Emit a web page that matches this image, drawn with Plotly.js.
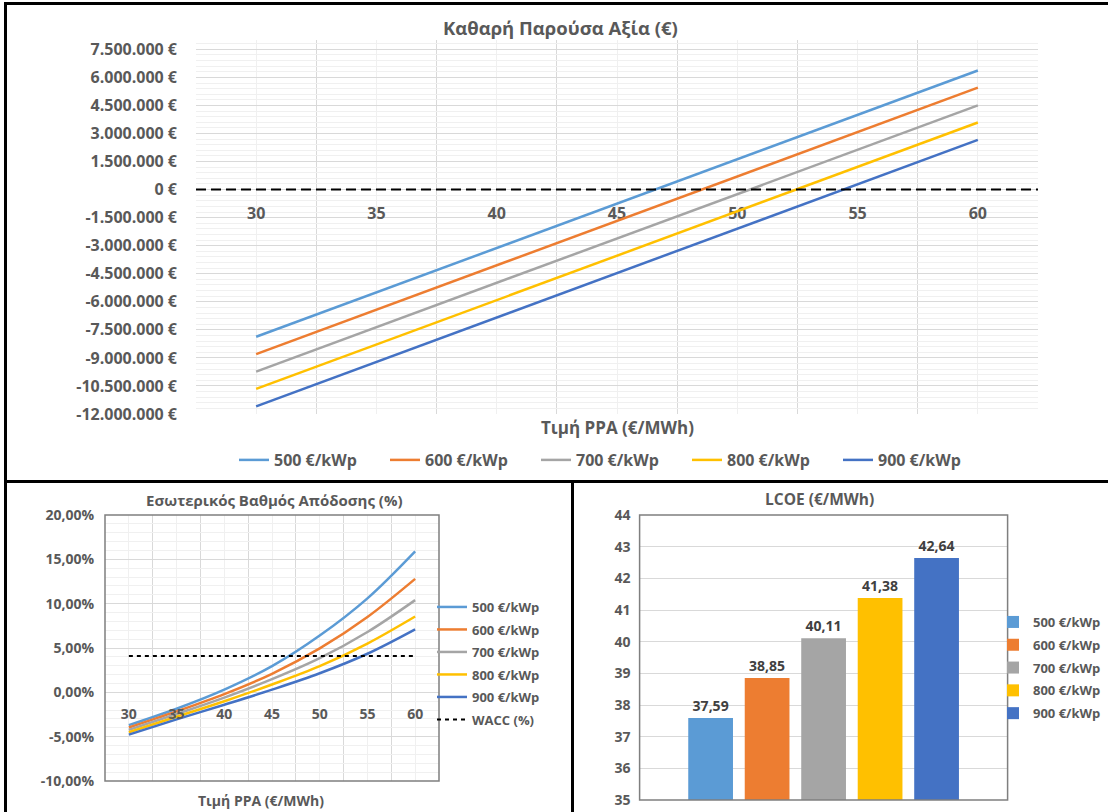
<!DOCTYPE html>
<html><head><meta charset="utf-8">
<script src="https://cdn.plot.ly/plotly-3.0.1.min.js"></script>
<style>html,body{margin:0;padding:0;background:#fff}#chart{width:1108px;height:812px}</style>
</head><body><div id="chart"></div>
<script>
// ---------- data ----------
const priceCategories = [30, 35, 40, 45, 50, 55, 60];
const seriesNames = ['500 €/kWp', '600 €/kWp', '700 €/kWp', '800 €/kWp', '900 €/kWp'];
const seriesColors = ['#5B9BD5', '#ED7D31', '#A5A5A5', '#FFC000', '#4472C4'];

// Καθαρή Παρούσα Αξία (€)
const npv500 = [-7870000, -5500000, -3120000, -750000, 1620000, 4000000, 6370000];
const npv600 = [-8800000, -6430000, -4050000, -1680000, 700000, 3070000, 5450000];
const npv700 = [-9730000, -7360000, -4990000, -2610000, -240000, 2130000, 4500000];
const npv800 = [-10660000, -8290000, -5910000, -3540000, -1160000, 1220000, 3590000];
const npv900 = [-11590000, -9220000, -6840000, -4470000, -2090000, 280000, 2660000];

// Εσωτερικός Βαθμός Απόδοσης (%)
const irr500 = [-3.70, -1.85, 0.30, 2.95, 6.40, 10.60, 15.90];
const irr600 = [-3.97, -2.15, -0.20, 2.09, 4.95, 8.50, 12.80];
const irr700 = [-4.24, -2.45, -0.60, 1.48, 3.85, 6.80, 10.40];
const irr800 = [-4.50, -2.75, -1.00, 0.88, 2.95, 5.50, 8.55];
const irr900 = [-4.77, -3.05, -1.40, 0.30, 2.15, 4.35, 7.10];
const waccPct = [4.1, 4.1, 4.1, 4.1, 4.1, 4.1, 4.1];
const waccName = 'WACC (%)';

// LCOE (€/MWh)
const lcoeCategory = ['LCOE'];
const lcoeValues = [37.59, 38.85, 40.11, 41.38, 42.64];

// tick labels
const npvTickVals = [-12000000, -10500000, -9000000, -7500000, -6000000, -4500000, -3000000, -1500000, 0, 1500000, 3000000, 4500000, 6000000, 7500000];
const npvTickText = ['-12.000.000 €', '-10.500.000 €', '-9.000.000 €', '-7.500.000 €', '-6.000.000 €', '-4.500.000 €', '-3.000.000 €', '-1.500.000 €', '0 €', '1.500.000 €', '3.000.000 €', '4.500.000 €', '6.000.000 €', '7.500.000 €'];
const irrTickVals = [-10, -5, 0, 5, 10, 15, 20];
const irrTickText = ['-10,00%', '-5,00%', '0,00%', '5,00%', '10,00%', '15,00%', '20,00%'];
const lcoeTickVals = [35, 36, 37, 38, 39, 40, 41, 42, 43, 44];

const titleNPV = 'Καθαρή Παρούσα Αξία (€)';
const titleIRR = 'Εσωτερικός Βαθμός Απόδοσης (%)';
const titleLCOE = 'LCOE (€/MWh)';
const xTitle = 'Τιμή PPA (€/MWh)';

// ---------- layout helpers ----------
const W = 1108, H = 812;
const px = x => x / W;
const py = y => 1 - y / H;
const FONT = 'Open Sans, Noto Sans, sans-serif';
const GREY = '#595959';
const MAJ = '#d9d9d9', MIN = '#f0f0f0';

const npvSeries = [npv500, npv600, npv700, npv800, npv900];
const irrSeries = [irr500, irr600, irr700, irr800, irr900];

const npvRange = [-12000000, 8000000];
const irrRange = [-10, 20];
const half = (priceCategories[1] - priceCategories[0]) / 2;
const xRange = [priceCategories[0] - half, priceCategories[priceCategories.length - 1] + half];
const boundaries = priceCategories.map(c => c - half).concat([xRange[1]]);

const npvY = [py(414), py(40)];
const irrY = [py(781), py(515)];
const lcoeY = [py(800), py(515)];
const zeroPos = (dom, rng) => dom[0] + (0 - rng[0]) / (rng[1] - rng[0]) * (dom[1] - dom[0]);

const traces = [];
npvSeries.forEach((vals, i) => traces.push({
  type: 'scatter', mode: 'lines', x: priceCategories, y: vals, name: seriesNames[i],
  line: { color: seriesColors[i], width: 2.5 }, xaxis: 'x', yaxis: 'y', legend: 'legend'
}));
irrSeries.forEach((vals, i) => traces.push({
  type: 'scatter', mode: 'lines', x: priceCategories, y: vals, name: seriesNames[i],
  line: { color: seriesColors[i], width: 2.5, shape: 'spline', smoothing: 1 },
  xaxis: 'x2', yaxis: 'y2', legend: 'legend2', legendgroup: 'irr' + i
}));
traces.push({
  type: 'scatter', mode: 'lines', x: priceCategories, y: waccPct, name: waccName,
  line: { color: '#000000', width: 2, dash: '4px,4px' },
  xaxis: 'x2', yaxis: 'y2', legend: 'legend2', legendgroup: 'wacc'
});
lcoeValues.forEach((v, i) => traces.push({
  type: 'bar', x: lcoeCategory, y: [v], name: seriesNames[i],
  marker: { color: seriesColors[i] },
  text: [v.toFixed(2).replace('.', ',')], textposition: 'outside', cliponaxis: false,
  textfont: { family: FONT, size: 14, color: '#404040', weight: 'bold' },
  xaxis: 'x3', yaxis: 'y3', legend: 'legend3', legendgroup: 'b' + i
}));

const tickFont = s => ({ family: FONT, size: s, color: GREY, weight: 'bold' });

const layout = {
  width: W, height: H, margin: { l: 0, r: 0, t: 0, b: 0 },
  paper_bgcolor: '#ffffff', plot_bgcolor: '#ffffff',
  font: { family: FONT, color: GREY, weight: 'bold' },
  separators: ',.',
  showlegend: true,
  barmode: 'group', bargap: 0.2325, bargroupgap: 0.208,
  xaxis: {
    domain: [px(196), px(1038)], range: xRange, anchor: 'free', position: zeroPos(npvY, npvRange),
    tickmode: 'array', tickvals: priceCategories, ticks: '', showline: false, zeroline: false,
    showgrid: true, gridcolor: MIN, gridwidth: 1,
    minor: { tickmode: 'array', tickvals: boundaries, showgrid: true, gridcolor: MAJ, gridwidth: 1, ticks: '' },
    tickfont: tickFont(16), ticklabelstandoff: 12, layer: 'below traces', fixedrange: true
  },
  yaxis: {
    domain: npvY, range: npvRange, anchor: 'x',
    tickmode: 'array', tickvals: npvTickVals, ticktext: npvTickText, ticks: '',
    showline: false, zeroline: false, showgrid: true, gridcolor: MAJ, gridwidth: 1,
    minor: { dtick: 300000, tick0: 0, showgrid: true, gridcolor: MIN, gridwidth: 1, ticks: '' },
    tickfont: tickFont(16), ticklabelstandoff: 18, fixedrange: true
  },
  xaxis2: {
    domain: [px(105), px(439)], range: xRange, anchor: 'free', position: zeroPos(irrY, irrRange),
    tickmode: 'array', tickvals: priceCategories, ticks: '', showline: false, zeroline: false,
    showgrid: true, gridcolor: MIN, gridwidth: 1,
    minor: { tickmode: 'array', tickvals: boundaries, showgrid: true, gridcolor: MAJ, gridwidth: 1, ticks: '' },
    tickfont: tickFont(14), ticklabelstandoff: 12, layer: 'above traces', fixedrange: true
  },
  yaxis2: {
    domain: irrY, range: irrRange, anchor: 'x2',
    tickmode: 'array', tickvals: irrTickVals, ticktext: irrTickText, ticks: '',
    showline: false, zeroline: false, showgrid: true, gridcolor: MAJ, gridwidth: 1,
    minor: { dtick: 1, tick0: 0, showgrid: true, gridcolor: MIN, gridwidth: 1, ticks: '' },
    tickfont: tickFont(14), ticklabelstandoff: 10, fixedrange: true
  },
  xaxis3: {
    domain: [px(639.6), px(1007.6)], anchor: 'y3', type: 'category',
    showticklabels: false, ticks: '', showgrid: false, showline: false, zeroline: false, fixedrange: true
  },
  yaxis3: {
    domain: lcoeY, range: [35, 44], anchor: 'x3',
    tickmode: 'array', tickvals: lcoeTickVals, ticks: '', showline: false, zeroline: false,
    showgrid: true, gridcolor: MAJ, gridwidth: 1,
    tickfont: tickFont(14), ticklabelstandoff: 8, fixedrange: true
  },
  legend: {
    orientation: 'h', x: px(234), xanchor: 'left', y: py(460), yanchor: 'middle',
    font: tickFont(16), bgcolor: 'rgba(0,0,0,0)', borderwidth: 0,
    entrywidth: 106, entrywidthmode: 'pixels', itemwidth: 30, traceorder: 'normal'
  },
  legend2: {
    orientation: 'v', x: px(432), xanchor: 'left', y: py(592), yanchor: 'top',
    font: tickFont(13), bgcolor: 'rgba(0,0,0,0)', borderwidth: 0,
    itemwidth: 30, tracegroupgap: 2.6, traceorder: 'grouped'
  },
  legend3: {
    orientation: 'v', x: px(993), xanchor: 'left', y: py(607), yanchor: 'top',
    font: tickFont(13), bgcolor: 'rgba(0,0,0,0)', borderwidth: 0,
    itemwidth: 30, tracegroupgap: 2.9, traceorder: 'grouped'
  },
  annotations: [
    { text: titleNPV, xref: 'paper', yref: 'paper', x: px(560), y: py(28), showarrow: false,
      xanchor: 'center', yanchor: 'middle', font: tickFont(18.5) },
    { text: xTitle, xref: 'x domain', yref: 'paper', x: 0.5, y: py(427), showarrow: false,
      xanchor: 'center', yanchor: 'middle', font: tickFont(17) },
    { text: titleIRR, xref: 'paper', yref: 'paper', x: px(274), y: py(500), showarrow: false,
      xanchor: 'center', yanchor: 'middle', font: tickFont(15) },
    { text: xTitle, xref: 'paper', yref: 'paper', x: px(261), y: py(800), showarrow: false,
      xanchor: 'center', yanchor: 'middle', font: tickFont(14) },
    { text: titleLCOE, xref: 'paper', yref: 'paper', x: px(819), y: py(499), showarrow: false,
      xanchor: 'center', yanchor: 'middle', font: tickFont(15.5) }
  ],
  shapes: [
    // NPV horizontal axis (dashed, at 0)
    { type: 'line', xref: 'x domain', yref: 'y', x0: 0, x1: 1, y0: 0, y1: 0,
      line: { color: '#000000', width: 2, dash: '10px,5px' } },
    // plot-area borders of the lower charts
    { type: 'rect', xref: 'x2 domain', yref: 'y2 domain', x0: 0, x1: 1, y0: 0, y1: 1,
      line: { color: '#7f7f7f', width: 1.5 } },
    { type: 'rect', xref: 'x3 domain', yref: 'y3 domain', x0: 0, x1: 1, y0: 0, y1: 1,
      line: { color: '#7f7f7f', width: 1.5 } },
    // frame lines
    { type: 'line', xref: 'paper', yref: 'paper', x0: px(4), x1: 1, y0: py(3.5), y1: py(3.5),
      line: { color: '#000000', width: 3 } },
    { type: 'line', xref: 'paper', yref: 'paper', x0: px(5.5), x1: px(5.5), y0: py(2), y1: 0,
      line: { color: '#000000', width: 3 } },
    { type: 'line', xref: 'paper', yref: 'paper', x0: px(4), x1: 1, y0: py(481.5), y1: py(481.5),
      line: { color: '#000000', width: 3 } },
    { type: 'line', xref: 'paper', yref: 'paper', x0: px(572.5), x1: px(572.5), y0: py(481), y1: 0,
      line: { color: '#000000', width: 3 } }
  ]
};

Plotly.newPlot('chart', traces, layout, { displayModeBar: false, staticPlot: true });
</script>
</body></html>
